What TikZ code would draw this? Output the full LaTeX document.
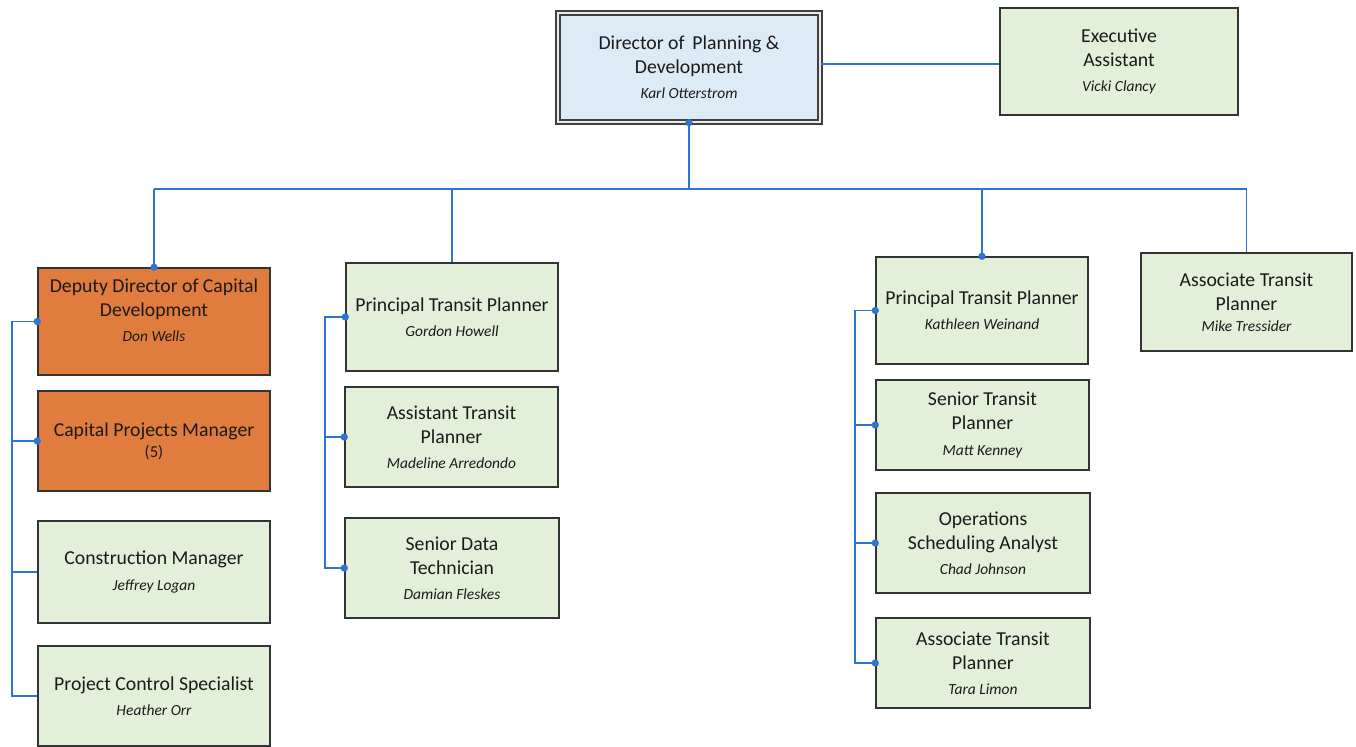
\documentclass[tikz,border=0pt]{standalone}
\usepackage{fontspec}
\setmainfont{Carlito}
\definecolor{boxgreen}{HTML}{E2F0D9}
\definecolor{boxblue}{HTML}{DDEBF7}
\definecolor{boxorange}{HTML}{E07C3E}
\definecolor{linkblue}{HTML}{2E75D2}
\definecolor{edgegray}{HTML}{333333}
\definecolor{txt}{HTML}{1A1A1A}
\newcommand{\nm}[1]{{\fontsize{11.6}{14}\selectfont\itshape #1}}
\begin{document}
\begin{tikzpicture}[x=0.75pt,y=-0.75pt,
  pbox/.style={draw=edgegray, line width=1.1pt, fill=boxgreen, align=center,
    text=txt, font=\fontsize{14.8}{18}\selectfont, inner sep=2pt},
  sz/.style 2 args={minimum width=#1*0.75pt, minimum height=#2*0.75pt},
  orange/.style={fill=boxorange},
  conn/.style={draw=linkblue, line width=1.2pt},
  jdot/.style={fill=linkblue, draw=none, circle, inner sep=0pt, minimum size=5.5pt}]
\useasboundingbox (0,0) rectangle (1356,746);
\fill[white] (0,0) rectangle (1356,746);

% boxes
\node[pbox, sz={262}{109}, fill=boxblue, draw=black!75, line width=1pt,
  double=white!92!black, double distance=2.2pt] (dir) at (689,67.5)
  {Director of\, Planning \&\\ Development\\[1pt] \nm{Karl Otterstrom}};
\node[pbox, sz={238}{107}] (exec) at (1119,61.5)
  {Executive\\ Assistant\\[1pt] \nm{Vicki Clancy}};

\node[pbox, orange, sz={232}{107}] (dep) at (154,321.5)
  {Deputy Director of Capital\\ Development\\[1pt] \nm{Don Wells}\\[-0.5pt]};
\node[pbox, orange, sz={232}{100}] (cpm) at (154,441)
  {Capital Projects Manager\\[-2pt] {\fontsize{12.5}{15}\selectfont (5)}};
\node[pbox, sz={232}{102}] (cm) at (154,572)
  {Construction Manager\\[1pt] \nm{Jeffrey Logan}};
\node[pbox, sz={232}{100}] (pcs) at (154,696)
  {Project Control Specialist\\[1pt] \nm{Heather Orr}};

\node[pbox, sz={212}{108}] (gor) at (452,317)
  {Principal Transit Planner\\[1pt] \nm{Gordon Howell}};
\node[pbox, sz={213}{100}] (ast) at (451.5,437)
  {Assistant Transit\\ Planner\\[1pt] \nm{Madeline Arredondo}};
\node[pbox, sz={214}{100}] (sdt) at (452,568)
  {Senior Data\\ Technician\\[1pt] \nm{Damian Fleskes}};

\node[pbox, sz={212}{107}] (kat) at (982,310.5)
  {Principal Transit Planner\\[1pt] \nm{Kathleen Weinand}};
\node[pbox, sz={213}{90}] (stp) at (982.5,425)
  {Senior Transit\\ Planner\\[1pt] \nm{Matt Kenney}};
\node[pbox, sz={214}{100}] (osa) at (983,543)
  {Operations\\ Scheduling Analyst\\[1pt] \nm{Chad Johnson}};
\node[pbox, sz={214}{90}] (tara) at (983,663)
  {Associate Transit\\ Planner\\[1pt] \nm{Tara Limon}};

\node[pbox, sz={211}{98}] (mike) at (1246.5,302)
  {Associate Transit\\ Planner\\[-2pt] \nm{Mike Tressider}};

% junction coordinates
\coordinate (busy) at (0,189);
\coordinate (lbx) at (12,0);
\coordinate (mbx) at (325,0);
\coordinate (rbx) at (855,0);

% top connectors
\draw[conn] (dir.south) -- (dir.south |- busy);
\draw[conn] (dep.north |- busy) -- (mike.north |- busy);
\draw[conn] (dep.north |- busy) -- (dep.north);
\draw[conn] (gor.north |- busy) -- (gor.north);
\draw[conn] (kat.north |- busy) -- (kat.north);
\draw[conn] (mike.north |- busy) -- (mike.north);
\draw[conn] ([yshift=-2pt]exec.west -| dir.east) -- ([yshift=-2pt]exec.west);

% left bracket
\draw[conn] (dep.west) -- (dep.west -| lbx) |- (pcs.west);
\draw[conn] (cpm.west -| lbx) -- (cpm.west);
\draw[conn] (cm.west -| lbx) -- (cm.west);

% middle bracket
\draw[conn] (gor.west) -- (gor.west -| mbx) |- (sdt.west);
\draw[conn] (ast.west -| mbx) -- (ast.west);

% right bracket
\draw[conn] (kat.west) -- (kat.west -| rbx) |- (tara.west);
\draw[conn] (stp.west -| rbx) -- (stp.west);
\draw[conn] (osa.west -| rbx) -- (osa.west);

% dots
\foreach \p in {dir.south, dep.north, kat.north, dep.west, cpm.west, gor.west,
  ast.west, sdt.west, kat.west, stp.west, osa.west, tara.west}
  \node[jdot] at (\p) {};
\end{tikzpicture}
\end{document}
